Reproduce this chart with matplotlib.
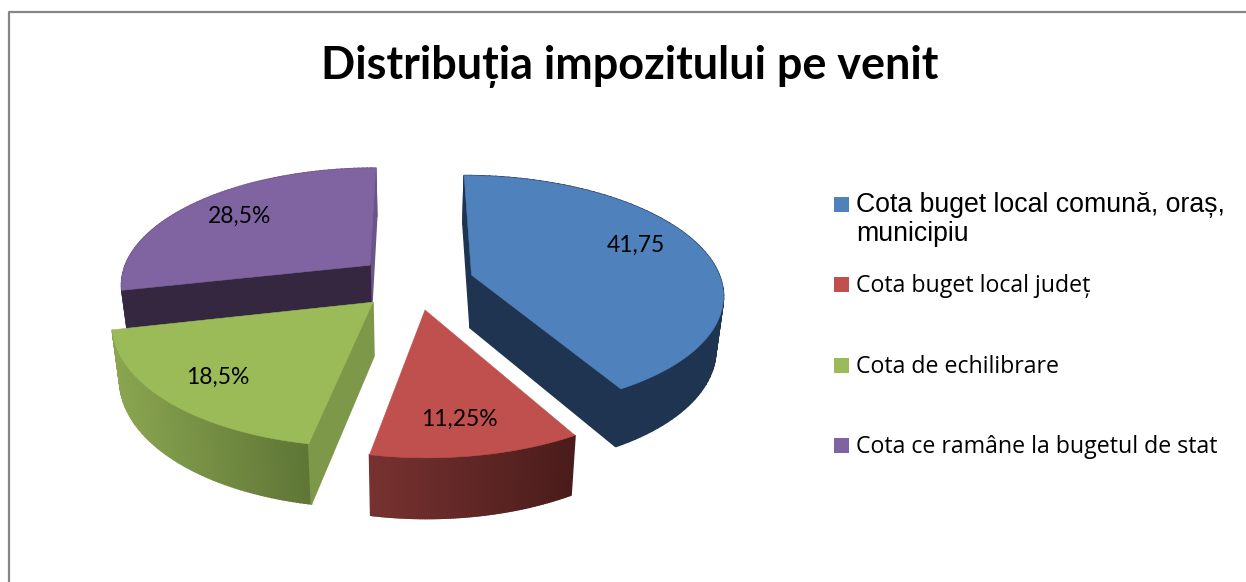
import numpy as np
import matplotlib
matplotlib.use("Agg")
import matplotlib.pyplot as plt
from matplotlib.colors import to_rgb
from matplotlib.patches import Rectangle

# Data
values = [41.75, 11.25, 18.5, 28.5]
value_labels = ["41,75", "11,25%", "18,5%", "28,5%"]
legend_labels = ["Cota buget local comună, oraș,\nmunicipiu", "Cota buget local județ",
                 "Cota de echilibrare", "Cota ce ramâne la bugetul de stat"]
title = "Distribuția impozitului pe venit"

# Colours
top_colors = ["#4F81BD", "#C0504D", "#9BBB59", "#8064A2"]
side_left = ["#1F3450", "#773230", "#8BA651", "#6A5488"]
side_right = ["#1F3450", "#4A1C1B", "#5F7636", "#6A5488"]
# None means the wall faces away and is not drawn
wall_start = ["#1F3450", None, "#7D9848", "#35273F"]
wall_end = ["#1F3450", None, None, "#6A5488"]

# Pie geometry, in pixels of the picture
radius = 250
explode = 59
cx, cy = 415, 282
squash = 0.465
persp = 0.0006
height = 53
shrink = 0.975


def project(u, v, bottom=False):
    s = 1 / (1 - persp * v)
    f = shrink if bottom else 1
    x = cx + u * s * f
    y = cy + squash * v * s * f + (height * s if bottom else 0)
    return x, y


def wall(ax, u, v, color):
    xt, yt = project(u, v)
    xb, yb = project(u, v, bottom=True)
    ax.fill(np.r_[xt, xb[::-1]], np.r_[yt, yb[::-1]], color=color, lw=1.2, zorder=2)


fig = plt.figure(figsize=(12.46, 5.82), dpi=100)
ax = fig.add_axes([0, 0, 1, 1])
ax.set_xlim(0, 1246)
ax.set_ylim(582, 0)
ax.axis("off")

# Chart border, only left and top show in the picture
ax.plot([9, 9, 1246], [582, 12, 12], color="#868686", lw=1.6, solid_capstyle="butt")

# Slice angles, clockwise from the top
edges = np.radians(np.r_[0, np.cumsum(values)] / sum(values) * 360)
slices = [(i, edges[i], edges[i + 1]) for i in range(len(values))]

# Back slices first so the front ones cover them
for i, a0, a1 in [slices[3], slices[0], slices[2], slices[1]]:
    mid = (a0 + a1) / 2
    u0 = explode * np.sin(mid)
    v0 = -explode * np.cos(mid)
    t = np.linspace(a0, a1, 90)
    u = u0 + radius * np.sin(t)
    v = v0 - radius * np.cos(t)

    # Outer rim with the colour running left to right
    c0 = np.array(to_rgb(side_left[i]))
    c1 = np.array(to_rgb(side_right[i]))
    xs, _ = project(u, v)
    xmin, xmax = xs.min(), xs.max()
    for j in np.argsort(v[:-1]):
        f = (xs[j] - xmin) / (xmax - xmin)
        wall(ax, u[j:j + 2], v[j:j + 2], tuple(c0 + (c1 - c0) * f))

    # Straight walls
    if wall_end[i]:
        wall(ax, np.array([u0, u[-1]]), np.array([v0, v[-1]]), wall_end[i])
    if wall_start[i]:
        wall(ax, np.array([u0, u[0]]), np.array([v0, v[0]]), wall_start[i])

    # Top face
    xt, yt = project(np.r_[u0, u], np.r_[v0, v])
    ax.fill(xt, yt, color=top_colors[i], lw=0.4, zorder=2)

# Value labels
label_pos = [(636, 245), (459, 419), (218, 377), (240, 216)]
for txt, (x, y) in zip(value_labels, label_pos):
    ax.text(x, y, txt, ha="center", va="center", family="Lato", fontsize=16.5, color="black", zorder=3)

ax.text(630, 66, title, ha="center", va="center", family="Lato", fontweight="bold", fontsize=32.4, color="black")

# Legend
legend_y = [204, 284, 365, 445]
for i, (lab, y) in enumerate(zip(legend_labels, legend_y)):
    ax.add_patch(Rectangle((834, y - 7), 15, 15, color=top_colors[i], lw=0))
    if i == 0:
        first, second = lab.split("\n")
        ax.text(856, y + 1, first, va="center", family="Liberation Sans", fontsize=19.2)
        ax.text(856, y + 30, second, va="center", family="Liberation Sans", fontsize=19.2)
    else:
        ax.text(856, y + 2, lab, va="center", family="Open Sans", fontsize=16.7)

fig.savefig("out.png", dpi=100)
